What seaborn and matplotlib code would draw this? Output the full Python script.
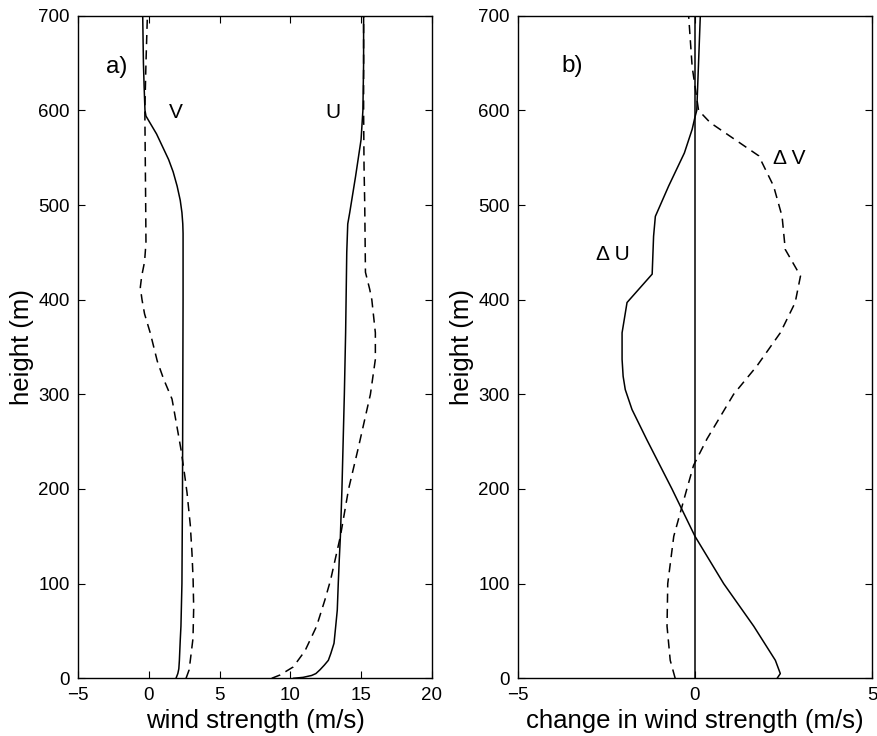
import matplotlib
matplotlib.use("Agg")
import matplotlib.pyplot as plt
import pandas as pd
import seaborn as sns

# ---------------- data ----------------
# panel a) : wind components, solid = one run, dashed = other run
v_solid_h = [0, 5, 10, 19, 40, 55, 100, 200, 300, 400, 470, 480, 492, 505, 520, 535, 548, 575, 594, 600, 625, 650, 700]
v_solid_x = [1.92, 2.05, 2.12, 2.16, 2.22, 2.27, 2.34, 2.38, 2.40, 2.42, 2.42, 2.40, 2.34, 2.22, 2.0, 1.72, 1.40, 0.55, -0.2, -0.27, -0.33, -0.38, -0.43]

v_dash_h = [0, 9, 42, 74, 104, 132, 162, 196, 215, 242, 270, 295, 316, 335, 365, 385, 400, 413, 425, 440, 460, 500, 550, 600, 650, 700]
v_dash_x = [2.63, 2.85, 3.12, 3.17, 3.13, 3.05, 2.93, 2.70, 2.53, 2.27, 1.94, 1.64, 1.05, 0.6, 0.1, -0.3, -0.48, -0.6, -0.5, -0.3, -0.2, -0.22, -0.25, -0.28, -0.2, -0.1]

u_solid_h = [0, 1, 3, 5, 9, 14, 19, 26, 37, 55, 72, 100, 125, 150, 200, 300, 365, 450, 480, 492, 530, 569, 600, 650, 700]
u_solid_x = [10.2, 10.9, 11.5, 11.8, 12.09, 12.4, 12.68, 12.85, 13.08, 13.2, 13.31, 13.38, 13.45, 13.53, 13.64, 13.81, 13.9, 13.98, 14.05, 14.19, 14.6, 14.99, 15.12, 15.17, 15.17]

u_dash_h = [0, 3.5, 12, 29, 55, 83, 104, 150, 200, 245, 300, 337, 365, 400, 411, 429, 500, 541, 600, 650, 700]
u_dash_x = [8.68, 9.27, 10.2, 11.03, 11.85, 12.44, 12.84, 13.53, 14.11, 14.82, 15.65, 16.0, 16.0, 15.75, 15.6, 15.3, 15.25, 15.2, 15.17, 15.17, 15.17]

# panel b) : differences
du_h = [0, 5, 19, 55, 100, 150, 200, 252, 284, 305, 319, 337, 365, 397, 427, 467, 488, 520, 555, 580, 593, 600, 650, 700]
du_x = [2.32, 2.41, 2.27, 1.66, 0.81, 0.0, -0.65, -1.36, -1.78, -1.97, -2.03, -2.06, -2.06, -1.92, -1.21, -1.17, -1.12, -0.745, -0.30, -0.08, 0.0, 0.05, 0.10, 0.15]

dv_h = [0, 19, 55, 100, 150, 200, 225, 253, 300, 330, 365, 397, 425, 453, 488, 520, 552, 587, 600, 646, 700]
dv_x = [-0.56, -0.70, -0.79, -0.77, -0.60, -0.23, -0.04, 0.34, 1.09, 1.75, 2.41, 2.83, 2.98, 2.55, 2.46, 2.22, 1.80, 0.43, 0.10, -0.08, -0.18]

xticks_a = [-5, 0, 5, 10, 15, 20]
xticks_b = [-5, 0, 5]
yticks = [0, 100, 200, 300, 400, 500, 600, 700]

# ---------------- figure ----------------
sns.set_style("ticks")
plt.rcParams["font.family"] = ["Liberation Sans", "DejaVu Sans"]
plt.rcParams["axes.edgecolor"] = "black"
plt.rcParams["axes.linewidth"] = 1.0
plt.rcParams["text.color"] = "black"
plt.rcParams["axes.labelcolor"] = "black"
plt.rcParams["xtick.color"] = "black"
plt.rcParams["ytick.color"] = "black"

fig = plt.figure(figsize=(8.78, 7.36), dpi=100)
axA = fig.add_axes([78 / 878, 57.7 / 736, 354 / 878, 662.6 / 736])
axB = fig.add_axes([518 / 878, 57.7 / 736, 354 / 878, 662.6 / 736])

solid = dict(color="black", lw=1.1, estimator=None, orient="y", sort=False)
dashed = dict(color="black", lw=1.1, estimator=None, orient="y", sort=False,
              linestyle=(0, (6, 4)))

sns.lineplot(data=pd.DataFrame({"x": v_solid_x, "h": v_solid_h}), x="x", y="h", ax=axA, **solid)
sns.lineplot(data=pd.DataFrame({"x": v_dash_x, "h": v_dash_h}), x="x", y="h", ax=axA, **dashed)
sns.lineplot(data=pd.DataFrame({"x": u_solid_x, "h": u_solid_h}), x="x", y="h", ax=axA, **solid)
sns.lineplot(data=pd.DataFrame({"x": u_dash_x, "h": u_dash_h}), x="x", y="h", ax=axA, **dashed)

sns.lineplot(data=pd.DataFrame({"x": du_x, "h": du_h}), x="x", y="h", ax=axB, **solid)
sns.lineplot(data=pd.DataFrame({"x": dv_x, "h": dv_h}), x="x", y="h", ax=axB, **dashed)
axB.axvline(0, color="black", lw=1.1)

for ax, xt, xl in [(axA, xticks_a, "wind strength (m/s)"),
                   (axB, xticks_b, "change in wind strength (m/s)")]:
    ax.set_xlim(xt[0], xt[-1])
    ax.set_ylim(0, 700)
    ax.set_xticks(xt)
    ax.set_yticks(yticks)
    ax.tick_params(direction="in", top=True, right=True, length=5, width=0.8,
                   labelsize=13.5, pad=6, colors="black")
    ax.set_xlabel(xl, fontsize=18.5, labelpad=4, color="black")
    ax.set_ylabel("height (m)", fontsize=18.5, labelpad=3, color="black")
    for s in ax.spines.values():
        s.set_visible(True)
        s.set_color("black")

axA.text(-2.25, 646, "a)", fontsize=17.5, ha="center", va="center", color="black")
axA.text(1.92, 598, "V", fontsize=15, ha="center", va="center", color="black")
axA.text(13.0, 598, "U", fontsize=15, ha="center", va="center", color="black")
axB.text(-3.47, 647, "b)", fontsize=17.5, ha="center", va="center", color="black")
axB.text(2.66, 549, "\u0394 V", fontsize=15, ha="center", va="center", color="black")
axB.text(-2.32, 448, "\u0394 U", fontsize=15, ha="center", va="center", color="black")

fig.savefig("out.png", dpi=100)
